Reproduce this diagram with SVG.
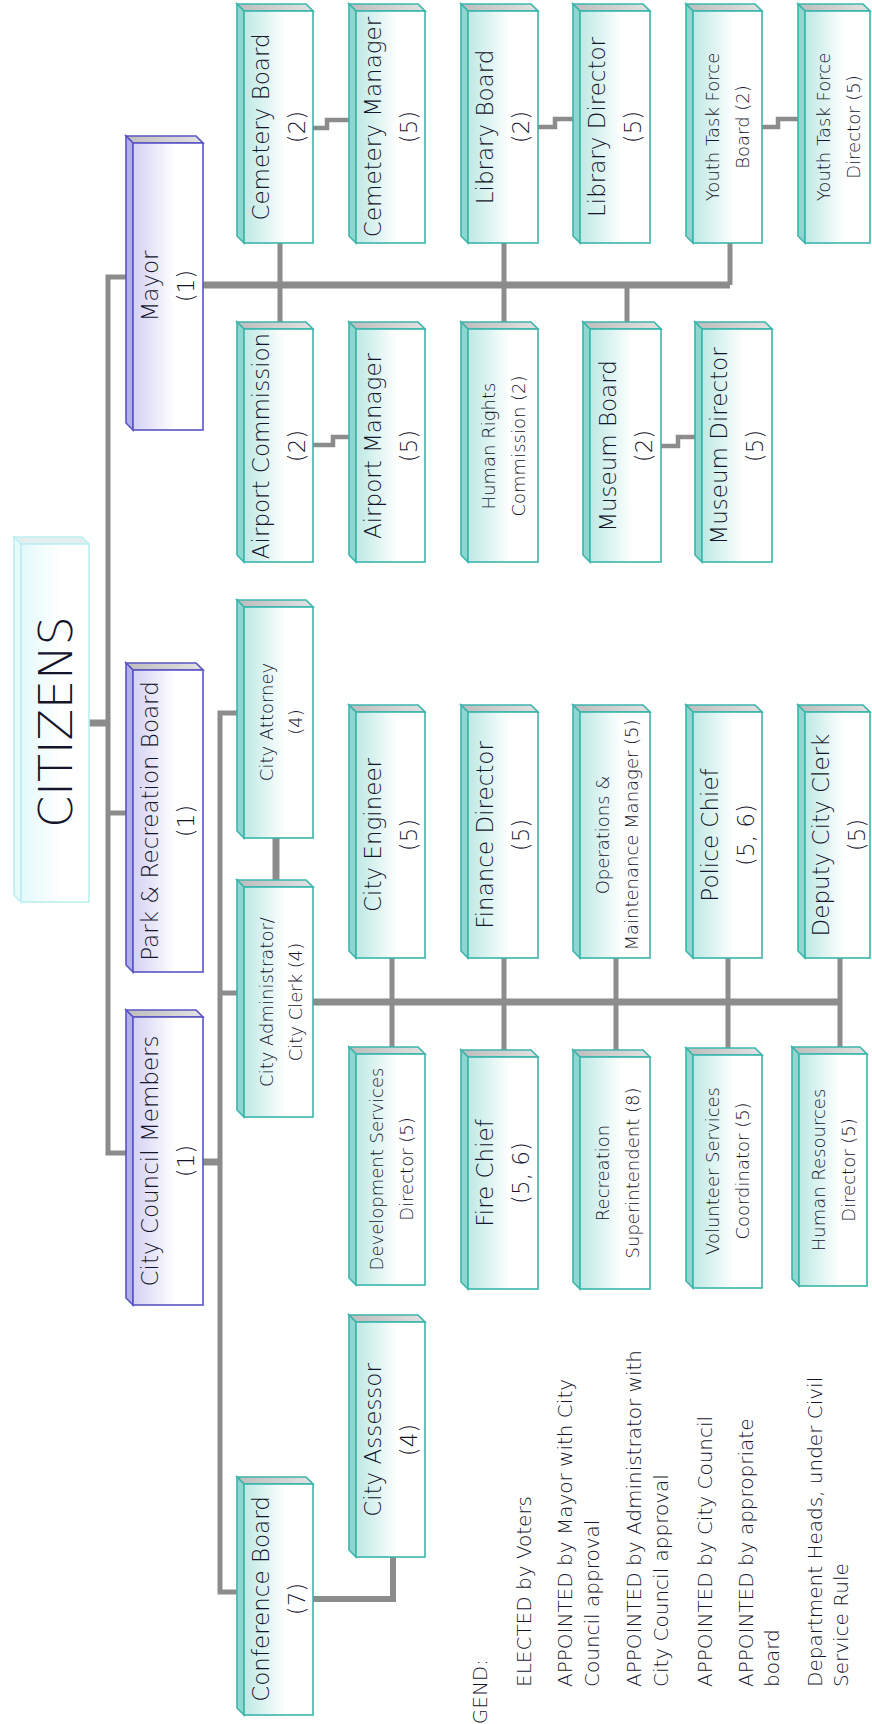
<svg xmlns="http://www.w3.org/2000/svg" width="872" height="1724" viewBox="0 0 872 1724">
<defs>
<linearGradient id="gT" x1="0" y1="0" x2="1" y2="0"><stop offset="0" stop-color="#bde9e4"/><stop offset="0.6" stop-color="#ffffff"/></linearGradient>
<linearGradient id="gP" x1="0" y1="0" x2="1" y2="0"><stop offset="0" stop-color="#d3d1f3"/><stop offset="0.6" stop-color="#ffffff"/></linearGradient>
<linearGradient id="gC" x1="0" y1="0" x2="1" y2="0"><stop offset="0" stop-color="#e4f9fb"/><stop offset="0.6" stop-color="#ffffff"/></linearGradient>
<linearGradient id="gTop" x1="0" y1="0" x2="1" y2="0"><stop offset="0" stop-color="#bdbdbd"/><stop offset="1" stop-color="#e2e2e2"/></linearGradient>
<style>
.ft{fill:url(#gT);stroke:#3ab6ac;stroke-width:1.6}
.st{fill:#8fd6ce;stroke:#3ab6ac;stroke-width:1.6}
.tt{fill:url(#gTop);stroke:#3ab6ac;stroke-width:1.6}
.fp{fill:url(#gP);stroke:#5a54c4;stroke-width:1.6}
.sp{fill:#b2aef0;stroke:#5a54c4;stroke-width:1.6}
.tp{fill:url(#gTop);stroke:#5a54c4;stroke-width:1.6}
.fc{fill:url(#gC);stroke:#bdeef2;stroke-width:1.6}
.sc{fill:#e6f9fb;stroke:#bdeef2;stroke-width:1.6}
.tc{fill:#e4eeee;stroke:#bdeef2;stroke-width:1.6}
.c{fill:none;stroke:#8c8c8c;stroke-width:5;stroke-linejoin:miter}
.k{fill:none;stroke:#8c8c8c;stroke-width:7}
.s{fill:none;stroke:#8c8c8c;stroke-width:4.5}
text{font-family:"DejaVu Sans","Liberation Sans",sans-serif;fill:#14142a;font-weight:300}
.L{font-size:23px;text-anchor:middle;dominant-baseline:central}
.S{font-size:18px;text-anchor:middle;dominant-baseline:central}
.G{font-size:20px}
.big{font-size:46px;text-anchor:middle;dominant-baseline:central;font-weight:200}
</style>
</defs>

<g id="connectors">
<path class="c" d="M126,277 H108 V1153 H126"/>
<path class="c" d="M108,813 H126"/>
<path class="k" d="M89,723 H108"/>
<path class="k" d="M203,285 H730"/>
<path class="c" d="M730,285 V243"/>
<path class="c" d="M280,243 V322"/>
<path class="c" d="M504,243 V322"/>
<path class="c" d="M627,285 V322"/>
<path class="s" d="M313,128 H327 V120 H349"/>
<path class="s" d="M538,127 H555 V119 H573"/>
<path class="s" d="M762,127 H778 V119 H798"/>
<path class="s" d="M313,445 H333 V437 H349"/>
<path class="s" d="M661,446 H678 V437 H695"/>
<path class="k" d="M203,1162 H220"/>
<path class="c" d="M237,713 H220 V1592 H237"/>
<path class="c" d="M220,993 H237"/>
<path class="k" d="M276,838 V880"/>
<path class="k" d="M313,1002 H840"/>
<path class="c" d="M392,958 V1047"/>
<path class="c" d="M504,958 V1050"/>
<path class="c" d="M616,958 V1050"/>
<path class="c" d="M728,958 V1048"/>
<path class="c" d="M840,958 V1047"/>
<path class="k" style="stroke-width:6" d="M313,1599 H393 V1557"/>
</g>

<g id="citizens">
<polygon class="tc" points="14,537 82,537 89,544 21,544"/>
<polygon class="sc" points="14,537 21,544 21,902 14,895"/>
<rect class="fc" x="21" y="544" width="68" height="358"/>
<text class="big" transform="translate(56,722) rotate(-90)">CITIZENS</text>
</g>

<g id="mayor">
<polygon class="tp" points="126,136 196,136 203,143 133,143"/>
<polygon class="sp" points="126,136 133,143 133,430 126,423"/>
<rect class="fp" x="133" y="143" width="70" height="287"/>
<text class="L" transform="translate(168,286) rotate(-90)"><tspan x="0" y="-18">Mayor</tspan><tspan x="0" y="18">(1)</tspan></text>
</g>

<g id="park-recreation-board">
<polygon class="tp" points="126,663 196,663 203,670 133,670"/>
<polygon class="sp" points="126,663 133,670 133,972 126,965"/>
<rect class="fp" x="133" y="670" width="70" height="302"/>
<text class="L" transform="translate(168,821) rotate(-90)"><tspan x="0" y="-18">Park &amp; Recreation Board</tspan><tspan x="0" y="18">(1)</tspan></text>
</g>

<g id="city-council-members">
<polygon class="tp" points="126,1010 196,1010 203,1017 133,1017"/>
<polygon class="sp" points="126,1010 133,1017 133,1305 126,1298"/>
<rect class="fp" x="133" y="1017" width="70" height="288"/>
<text class="L" transform="translate(168,1161) rotate(-90)"><tspan x="0" y="-18">City Council Members</tspan><tspan x="0" y="18">(1)</tspan></text>
</g>

<g id="cemetery-board">
<polygon class="tt" points="237,4 306,4 313,11 244,11"/>
<polygon class="st" points="237,4 244,11 244,243 237,236"/>
<rect class="ft" x="244" y="11" width="69" height="232"/>
<text class="L" transform="translate(279,127) rotate(-90)"><tspan x="0" y="-18">Cemetery Board</tspan><tspan x="0" y="18">(2)</tspan></text>
</g>

<g id="cemetery-manager">
<polygon class="tt" points="349,4 418,4 425,11 356,11"/>
<polygon class="st" points="349,4 356,11 356,243 349,236"/>
<rect class="ft" x="356" y="11" width="69" height="232"/>
<text class="L" transform="translate(391,127) rotate(-90)"><tspan x="0" y="-18">Cemetery Manager</tspan><tspan x="0" y="18">(5)</tspan></text>
</g>

<g id="library-board">
<polygon class="tt" points="461,4 531,4 538,11 468,11"/>
<polygon class="st" points="461,4 468,11 468,243 461,236"/>
<rect class="ft" x="468" y="11" width="70" height="232"/>
<text class="L" transform="translate(503,127) rotate(-90)"><tspan x="0" y="-18">Library Board</tspan><tspan x="0" y="18">(2)</tspan></text>
</g>

<g id="library-director">
<polygon class="tt" points="573,4 643,4 650,11 580,11"/>
<polygon class="st" points="573,4 580,11 580,243 573,236"/>
<rect class="ft" x="580" y="11" width="70" height="232"/>
<text class="L" transform="translate(615,127) rotate(-90)"><tspan x="0" y="-18">Library Director</tspan><tspan x="0" y="18">(5)</tspan></text>
</g>

<g id="youth-task-force-board">
<polygon class="tt" points="686,4 755,4 762,11 693,11"/>
<polygon class="st" points="686,4 693,11 693,243 686,236"/>
<rect class="ft" x="693" y="11" width="69" height="232"/>
<text class="S" transform="translate(727,127) rotate(-90)"><tspan x="0" y="-15">Youth Task Force</tspan><tspan x="0" y="15">Board  (2)</tspan></text>
</g>

<g id="youth-task-force-director">
<polygon class="tt" points="798,4 863,4 870,11 805,11"/>
<polygon class="st" points="798,4 805,11 805,243 798,236"/>
<rect class="ft" x="805" y="11" width="65" height="232"/>
<text class="S" transform="translate(838,127) rotate(-90)"><tspan x="0" y="-15">Youth Task Force</tspan><tspan x="0" y="15">Director  (5)</tspan></text>
</g>

<g id="airport-commission">
<polygon class="tt" points="237,322 306,322 313,329 244,329"/>
<polygon class="st" points="237,322 244,329 244,562 237,555"/>
<rect class="ft" x="244" y="329" width="69" height="233"/>
<text class="L" transform="translate(279,446) rotate(-90)"><tspan x="0" y="-18">Airport Commission</tspan><tspan x="0" y="18">(2)</tspan></text>
</g>

<g id="airport-manager">
<polygon class="tt" points="349,322 418,322 425,329 356,329"/>
<polygon class="st" points="349,322 356,329 356,562 349,555"/>
<rect class="ft" x="356" y="329" width="69" height="233"/>
<text class="L" transform="translate(391,446) rotate(-90)"><tspan x="0" y="-18">Airport Manager</tspan><tspan x="0" y="18">(5)</tspan></text>
</g>

<g id="human-rights-commission">
<polygon class="tt" points="461,322 531,322 538,329 468,329"/>
<polygon class="st" points="461,322 468,329 468,562 461,555"/>
<rect class="ft" x="468" y="329" width="70" height="233"/>
<text class="S" transform="translate(503,446) rotate(-90)"><tspan x="0" y="-15">Human Rights</tspan><tspan x="0" y="15">Commission  (2)</tspan></text>
</g>

<g id="museum-board">
<polygon class="tt" points="583,322 654,322 661,329 590,329"/>
<polygon class="st" points="583,322 590,329 590,562 583,555"/>
<rect class="ft" x="590" y="329" width="71" height="233"/>
<text class="L" transform="translate(626,446) rotate(-90)"><tspan x="0" y="-18">Museum Board</tspan><tspan x="0" y="18">(2)</tspan></text>
</g>

<g id="museum-director">
<polygon class="tt" points="695,322 765,322 772,329 702,329"/>
<polygon class="st" points="695,322 702,329 702,562 695,555"/>
<rect class="ft" x="702" y="329" width="70" height="233"/>
<text class="L" transform="translate(737,446) rotate(-90)"><tspan x="0" y="-18">Museum Director</tspan><tspan x="0" y="18">(5)</tspan></text>
</g>

<g id="city-attorney">
<polygon class="tt" points="237,600 306,600 313,607 244,607"/>
<polygon class="st" points="237,600 244,607 244,838 237,831"/>
<rect class="ft" x="244" y="607" width="69" height="231"/>
<text class="S" transform="translate(280,722) rotate(-90)"><tspan x="0" y="-14">City Attorney</tspan><tspan x="0" y="15">(4)</tspan></text>
</g>

<g id="city-administrator">
<polygon class="tt" points="237,880 306,880 313,887 244,887"/>
<polygon class="st" points="237,880 244,887 244,1117 237,1110"/>
<rect class="ft" x="244" y="887" width="69" height="230"/>
<text class="S" transform="translate(280,1002) rotate(-90)"><tspan x="0" y="-14">City Administrator/</tspan><tspan x="0" y="15">City Clerk  (4)</tspan></text>
</g>

<g id="city-engineer">
<polygon class="tt" points="349,705 418,705 425,712 356,712"/>
<polygon class="st" points="349,705 356,712 356,958 349,951"/>
<rect class="ft" x="356" y="712" width="69" height="246"/>
<text class="L" transform="translate(391,835) rotate(-90)"><tspan x="0" y="-18">City Engineer</tspan><tspan x="0" y="18">(5)</tspan></text>
</g>

<g id="finance-director">
<polygon class="tt" points="461,705 531,705 538,712 468,712"/>
<polygon class="st" points="461,705 468,712 468,958 461,951"/>
<rect class="ft" x="468" y="712" width="70" height="246"/>
<text class="L" transform="translate(503,835) rotate(-90)"><tspan x="0" y="-18">Finance Director</tspan><tspan x="0" y="18">(5)</tspan></text>
</g>

<g id="operations-maintenance-manager">
<polygon class="tt" points="573,705 643,705 650,712 580,712"/>
<polygon class="st" points="573,705 580,712 580,958 573,951"/>
<rect class="ft" x="580" y="712" width="70" height="246"/>
<text class="S" transform="translate(616,835) rotate(-90)"><tspan x="0" y="-14">Operations &amp;</tspan><tspan x="0" y="15">Maintenance Manager  (5)</tspan></text>
</g>

<g id="police-chief">
<polygon class="tt" points="686,705 755,705 762,712 693,712"/>
<polygon class="st" points="686,705 693,712 693,958 686,951"/>
<rect class="ft" x="693" y="712" width="69" height="246"/>
<text class="L" transform="translate(728,835) rotate(-90)"><tspan x="0" y="-18">Police Chief</tspan><tspan x="0" y="18">(5, 6)</tspan></text>
</g>

<g id="deputy-city-clerk">
<polygon class="tt" points="798,705 863,705 870,712 805,712"/>
<polygon class="st" points="798,705 805,712 805,958 798,951"/>
<rect class="ft" x="805" y="712" width="65" height="246"/>
<text class="L" transform="translate(839,835) rotate(-90)"><tspan x="0" y="-18">Deputy City Clerk</tspan><tspan x="0" y="18">(5)</tspan></text>
</g>

<g id="development-services-director">
<polygon class="tt" points="349,1047 418,1047 425,1054 356,1054"/>
<polygon class="st" points="349,1047 356,1054 356,1285 349,1278"/>
<rect class="ft" x="356" y="1054" width="69" height="231"/>
<text class="S" transform="translate(391,1169) rotate(-90)"><tspan x="0" y="-15">Development Services</tspan><tspan x="0" y="15">Director  (5)</tspan></text>
</g>

<g id="fire-chief">
<polygon class="tt" points="461,1050 531,1050 538,1057 468,1057"/>
<polygon class="st" points="461,1050 468,1057 468,1289 461,1282"/>
<rect class="ft" x="468" y="1057" width="70" height="232"/>
<text class="L" transform="translate(503,1173) rotate(-90)"><tspan x="0" y="-18">Fire Chief</tspan><tspan x="0" y="18">(5, 6)</tspan></text>
</g>

<g id="recreation-superintendent">
<polygon class="tt" points="573,1050 643,1050 650,1057 580,1057"/>
<polygon class="st" points="573,1050 580,1057 580,1289 573,1282"/>
<rect class="ft" x="580" y="1057" width="70" height="232"/>
<text class="S" transform="translate(617,1173) rotate(-90)"><tspan x="0" y="-15">Recreation</tspan><tspan x="0" y="15">Superintendent  (8)</tspan></text>
</g>

<g id="volunteer-services-coordinator">
<polygon class="tt" points="686,1048 755,1048 762,1055 693,1055"/>
<polygon class="st" points="686,1048 693,1055 693,1288 686,1281"/>
<rect class="ft" x="693" y="1055" width="69" height="233"/>
<text class="S" transform="translate(727,1171) rotate(-90)"><tspan x="0" y="-15">Volunteer Services</tspan><tspan x="0" y="15">Coordinator  (5)</tspan></text>
</g>

<g id="human-resources-director">
<polygon class="tt" points="792,1047 860,1047 867,1054 799,1054"/>
<polygon class="st" points="792,1047 799,1054 799,1286 792,1279"/>
<rect class="ft" x="799" y="1054" width="68" height="232"/>
<text class="S" transform="translate(833,1170) rotate(-90)"><tspan x="0" y="-15">Human Resources</tspan><tspan x="0" y="15">Director  (5)</tspan></text>
</g>

<g id="conference-board">
<polygon class="tt" points="237,1477 306,1477 313,1484 244,1484"/>
<polygon class="st" points="237,1477 244,1484 244,1715 237,1708"/>
<rect class="ft" x="244" y="1484" width="69" height="231"/>
<text class="L" transform="translate(279,1599) rotate(-90)"><tspan x="0" y="-18">Conference Board</tspan><tspan x="0" y="18">(7)</tspan></text>
</g>

<g id="city-assessor">
<polygon class="tt" points="349,1315 418,1315 425,1322 356,1322"/>
<polygon class="st" points="349,1315 356,1322 356,1557 349,1550"/>
<rect class="ft" x="356" y="1322" width="69" height="235"/>
<text class="L" transform="translate(391,1440) rotate(-90)"><tspan x="0" y="-18">City Assessor</tspan><tspan x="0" y="18">(4)</tspan></text>
</g>

<g id="legend">
<text class="G" transform="translate(487,1748) rotate(-90)">LEGEND:</text>
<text class="G" transform="translate(531,1687) rotate(-90)">ELECTED by Voters</text>
<text class="G" transform="translate(572,1687) rotate(-90)"><tspan x="0" y="0">APPOINTED by Mayor with City</tspan><tspan x="0" y="27">Council approval</tspan></text>
<text class="G" transform="translate(641,1687) rotate(-90)"><tspan x="0" y="0">APPOINTED by Administrator with</tspan><tspan x="0" y="27">City Council approval</tspan></text>
<text class="G" transform="translate(712,1687) rotate(-90)">APPOINTED by City Council</text>
<text class="G" transform="translate(753,1687) rotate(-90)"><tspan x="0" y="0">APPOINTED by appropriate</tspan><tspan x="0" y="26">board</tspan></text>
<text class="G" transform="translate(822,1687) rotate(-90)"><tspan x="0" y="0">Department Heads, under Civil</tspan><tspan x="0" y="26">Service Rule</tspan></text>
</g>
</svg>
